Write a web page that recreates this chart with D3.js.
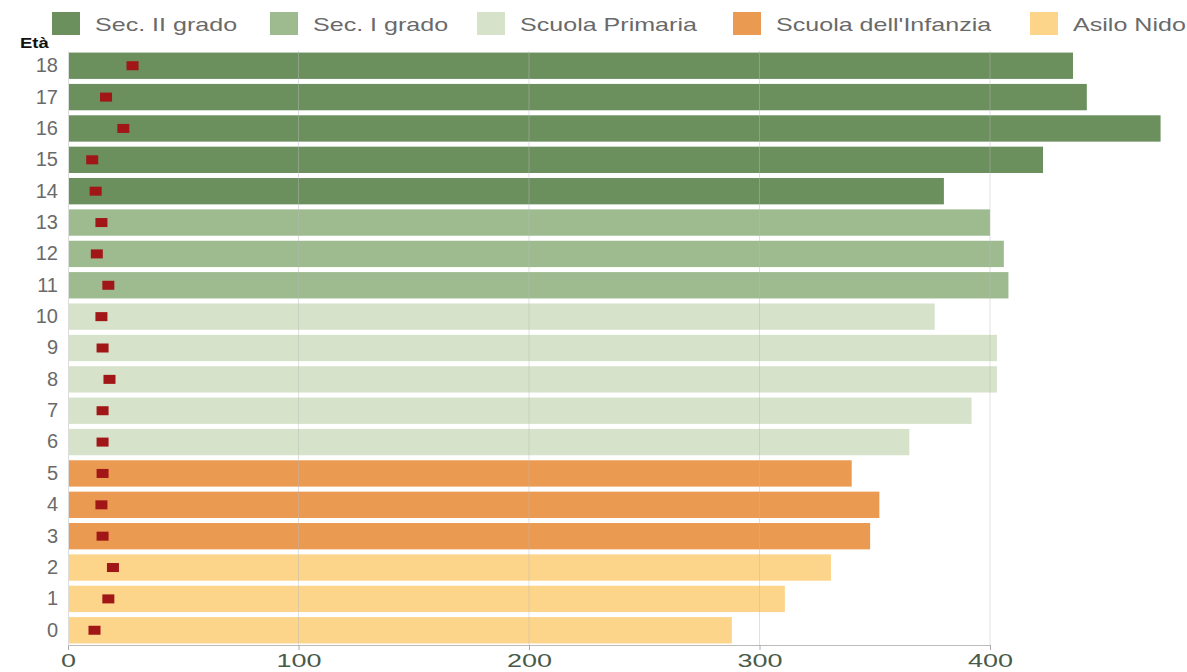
<!DOCTYPE html>
<html>
<head>
<meta charset="utf-8">
<script src="https://cdn.jsdelivr.net/npm/d3@7"></script>
<style>
  body { margin: 0; background: #fff; }
  text { font-family: "Liberation Sans", Arial, sans-serif; }
</style>
</head>
<body>
<svg id="chart"></svg>
<script>
// ages (top to bottom) and the school level each belongs to
const ages = [18, 17, 16, 15, 14, 13, 12, 11, 10, 9, 8, 7, 6, 5, 4, 3, 2, 1, 0];
const totals = [436, 442, 474, 423, 380, 400, 406, 408, 376, 403, 403, 392, 365, 340, 352, 348, 331, 311, 288];
const markers = [28, 16.5, 24, 10.5, 12, 14.5, 12.5, 17.5, 14.5, 15, 18, 15, 15, 15, 14.5, 15, 19.5, 17.5, 11.5];
const levels = ["Sec. II grado", "Sec. I grado", "Scuola Primaria", "Scuola dell'Infanzia", "Asilo Nido"];
const ageLevel = [0, 0, 0, 0, 0, 1, 1, 1, 2, 2, 2, 2, 2, 3, 3, 3, 4, 4, 4];
const xTicks = [0, 100, 200, 300, 400];

const width = 1187, height = 672;
const margin = {top: 51, right: 12, bottom: 27, left: 68};
const stretch = 1.32; // the reference text is drawn wide

const color = d3.scaleOrdinal()
    .domain(levels)
    .range(["#6b8f5d", "#9dbb8f", "#d6e2c9", "#eb9a52", "#fcd48a"]);

const svg = d3.select("#chart")
    .attr("width", width)
    .attr("height", height);

const x = d3.scaleLinear()
    .domain([0, 400])
    .range([margin.left, margin.left + 922]);

const y = d3.scaleBand()
    .domain(ages)
    .range([margin.top, height - margin.bottom])
    .paddingInner(0.16)
    .paddingOuter(0.05);

// bars
svg.append("g").selectAll("rect")
    .data(ages)
    .join("rect")
    .attr("x", x(0) + 1)
    .attr("y", d => y(d))
    .attr("width", (d, i) => x(totals[i]) - x(0) - 1)
    .attr("height", y.bandwidth())
    .attr("fill", (d, i) => color(levels[ageLevel[i]]));

// grid lines
svg.append("g").selectAll("line")
    .data(xTicks.slice(1))
    .join("line")
    .attr("x1", d => x(d)).attr("x2", d => x(d))
    .attr("y1", margin.top).attr("y2", height - margin.bottom)
    .attr("stroke", "#bbb")
    .attr("stroke-opacity", 0.45)
    .attr("stroke-width", 1);

// red markers
svg.append("g").selectAll("rect")
    .data(ages)
    .join("rect")
    .attr("x", (d, i) => x(markers[i]) - 6)
    .attr("y", d => y(d) + y.bandwidth() / 2 - 4.5)
    .attr("width", 12)
    .attr("height", 9)
    .attr("fill", "#a11616");

// x axis
const xAxis = svg.append("g")
    .attr("transform", "translate(0," + (height - margin.bottom) + ")")
    .call(d3.axisBottom(x).tickValues(xTicks).tickSize(5).tickSizeOuter(0).tickPadding(3));
xAxis.select(".domain").attr("stroke", "#bbb");
xAxis.selectAll(".tick line").attr("stroke", "#aaa");
xAxis.selectAll("text")
    .attr("fill", "#4a5a48")
    .attr("font-size", 19)
    .attr("dy", "0.72em")
    .attr("transform", "scale(" + (stretch + 0.1) + ",1)");

// y axis
const yAxis = svg.append("g")
    .attr("transform", "translate(" + margin.left + ",0)")
    .call(d3.axisLeft(y).tickSize(0).tickPadding(10));
yAxis.select(".domain").attr("stroke", "#ddd");
yAxis.selectAll("text")
    .attr("fill", "#6a6a6a")
    .attr("font-size", 20);

svg.append("text")
    .attr("transform", "translate(20,48) scale(" + stretch + ",1)")
    .attr("font-size", 14)
    .attr("font-weight", "bold")
    .attr("fill", "#111")
    .text("Età");

// legend
const legendX = [52, 270, 477, 733, 1030];
const legend = svg.append("g").selectAll("g")
    .data(levels)
    .join("g")
    .attr("transform", (d, i) => "translate(" + legendX[i] + ",12)");
legend.append("rect")
    .attr("width", 28).attr("height", 23)
    .attr("fill", d => color(d));
legend.append("text")
    .attr("transform", "translate(43,12) scale(" + stretch + ",1)")
    .attr("dy", "0.35em")
    .attr("font-size", 19)
    .attr("fill", "#6a6a6a")
    .text(d => d);
</script>
</body>
</html>
